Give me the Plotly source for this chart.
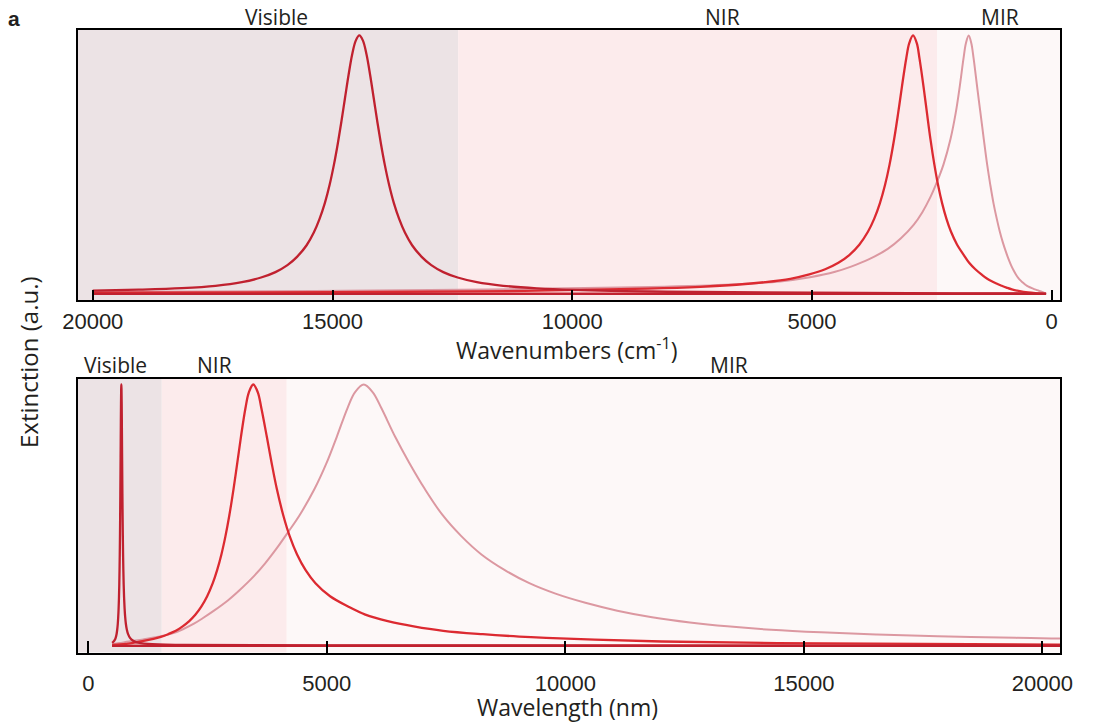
import plotly.graph_objects as go

W, H = 1094, 723

# Normalised extinction spectra.
# Visible and NIR bands sampled in wavenumber (cm^-1)
vis_wn = [20000, 19040, 18140, 17440, 16890, 16490, 16190, 15940, 15740, 15540, 15390, 15270,
          15160, 15060, 14970, 14890, 14815, 14740, 14665, 14590, 14515, 14440,
          14365, 14290, 14215, 14140, 14065, 13990, 13910, 13820, 13720, 13610, 13490, 13340,
          13140, 12940, 12690, 12390, 11990, 11440, 10740, 10000, 8000, 5000, 2000, 500, 120]
vis_ext = [0.012, 0.016, 0.022, 0.031, 0.045, 0.063, 0.084, 0.111, 0.143, 0.188, 0.237, 0.29,
           0.351, 0.422, 0.5, 0.581, 0.666, 0.757, 0.847, 0.926, 0.98, 1.0,
           0.98, 0.926, 0.847, 0.757, 0.666, 0.581, 0.5, 0.422, 0.351, 0.29, 0.237, 0.188,
           0.143, 0.111, 0.084, 0.063, 0.045, 0.031, 0.021, 0.015, 0.008, 0.004, 0.002, 0.001, 0.0]

nir_wn = [20000, 15000, 11000, 8422, 7325, 6578, 5981, 5452, 5055, 4725, 4449, 4222, 4013,
          3833, 3703, 3584, 3478, 3382, 3285, 3202, 3125, 3035, 2971, 2892,
          2814, 2757, 2672, 2602, 2530, 2447, 2369, 2285, 2195, 2100, 1973, 1833, 1722, 1593,
          1466, 1344, 1209, 1107, 1042, 942, 832, 692, 492, 292, 120]
nir_ext = [0.004, 0.006, 0.011, 0.02, 0.027, 0.035, 0.045, 0.058, 0.075, 0.095, 0.12, 0.15, 0.19,
           0.24, 0.29, 0.35, 0.42, 0.5, 0.6, 0.7, 0.8, 0.91, 0.97, 1.0,
           0.97, 0.91, 0.8, 0.7, 0.6, 0.5, 0.42, 0.35, 0.29, 0.24, 0.19, 0.15, 0.12, 0.095,
           0.075, 0.058, 0.045, 0.036, 0.031, 0.024, 0.017, 0.011, 0.005, 0.002, 0.0]

# MIR band sampled in wavelength (nm)
mir_nm = [500, 650, 850, 1153, 1469, 1766, 1984, 2214, 2390, 2627, 2925, 3175, 3472, 3707,
          3948, 4195, 4429, 4741, 4995, 5209, 5434, 5589, 5774, 5964, 6143, 6433, 6730, 7056,
          7429, 7819, 8241, 8732, 9245, 9794, 10420, 11089, 11818, 12611, 13395, 14313, 15360,
          16515, 17810, 19445, 20188, 25000, 33000, 50000, 90000]
mir_ext = [0.007, 0.011, 0.017, 0.025, 0.035, 0.048, 0.064, 0.085, 0.105, 0.134, 0.174, 0.214,
           0.267, 0.316, 0.373, 0.437, 0.5, 0.6, 0.7, 0.8, 0.91, 0.97, 1.0, 0.97, 0.91, 0.8, 0.7,
           0.6, 0.5, 0.42, 0.35, 0.29, 0.24, 0.2, 0.165, 0.135, 0.11, 0.09, 0.075, 0.062, 0.052,
           0.044, 0.037, 0.031, 0.029, 0.021, 0.014, 0.007, 0.0]

wavenumber_ticks = [20000, 15000, 10000, 5000, 0]
wavelength_ticks = [0, 5000, 10000, 15000, 20000]

region_names = ["Visible", "NIR", "MIR"]
wavenumber_edges = [20308, 12380, 2390, -173]   # cm^-1
wavelength_edges = [-216, 1540, 4160, 20370]    # nm
region_fills = ["#ece3e5", "#fcebec", "#fdf8f8"]

RED = "#dc2a31"
DARK_RED = "#c0212f"
PINK = "#dc98a1"
INK = "#231f20"


def convert(values):
    """cm^-1 <-> nm"""
    return [1e7 / v for v in values]


# (wavenumbers, wavelengths, extinction, colour, width), drawn back to front
spectra = [
    (convert(mir_nm), mir_nm, mir_ext, PINK, 2.0),
    (nir_wn, convert(nir_wn), nir_ext, RED, 2.3),
    (vis_wn, convert(vis_wn), vis_ext, DARK_RED, 2.3),
]

fig = go.Figure()

for panel, (xa, ya) in enumerate((("x", "y"), ("x2", "y2"))):
    for wn, wl, ext, color, lw in spectra:
        xs = wn if panel == 0 else wl
        # closing baseline of each curve
        fig.add_trace(go.Scatter(x=[xs[0], xs[-1]], y=[0, 0], mode="lines",
                                 line=dict(color=color, width=lw), xaxis=xa, yaxis=ya,
                                 hoverinfo="skip", showlegend=False))
        fig.add_trace(go.Scatter(x=xs, y=ext, mode="lines",
                                 line=dict(color=color, width=lw, shape="spline", smoothing=1.0),
                                 xaxis=xa, yaxis=ya, showlegend=False))

# coloured spectral regions
shapes = []
for edges, xr, yr in ((wavenumber_edges, "x", "y"), (wavelength_edges, "x2", "y2")):
    for i in range(3):
        shapes.append(dict(type="rect", xref=xr, yref=f"{yr} domain",
                           x0=edges[i], x1=edges[i + 1], y0=0, y1=1,
                           fillcolor=region_fills[i], line=dict(width=0), layer="below"))

L, R = 78 / W, 1060 / W
top_dom = [1 - 300 / H, 1 - 29.5 / H]
bot_dom = [1 - 652.5 / H, 1 - 379 / H]

tick_font = dict(family="Liberation Sans, Arial, sans-serif", size=22, color=INK)
frame = dict(showline=True, linewidth=2, linecolor="black", mirror=True,
             showgrid=False, zeroline=False, automargin=False)

fig.update_layout(
    width=W, height=H,
    margin=dict(l=0, r=0, t=0, b=0, autoexpand=False),
    paper_bgcolor="white", plot_bgcolor="white",
    shapes=shapes,
    xaxis=dict(domain=[L, R], anchor="y", range=[wavenumber_edges[0], wavenumber_edges[-1]],
               tickmode="array", tickvals=wavenumber_ticks,
               ticktext=[str(t) for t in wavenumber_ticks],
               ticks="inside", ticklen=10, tickwidth=2, tickcolor="black",
               tickfont=tick_font, ticklabelstandoff=1, **frame),
    yaxis=dict(domain=top_dom, anchor="x", range=[-0.024, 1.023], showticklabels=False,
               ticks="", **frame),
    xaxis2=dict(domain=[L, R], anchor="y2", range=[wavelength_edges[0], wavelength_edges[-1]],
                tickmode="array", tickvals=wavelength_ticks,
                ticktext=[str(t) for t in wavelength_ticks],
                ticks="inside", ticklen=12, tickwidth=2, tickcolor="black",
                tickfont=tick_font, ticklabelstandoff=10, **frame),
    yaxis2=dict(domain=bot_dom, anchor="x2", range=[-0.025, 1.021], showticklabels=False,
                ticks="", **frame),
)

title_font = "Open Sans, Lato, sans-serif"


def label(text, px, py, size, angle=0, bold=False):
    fig.add_annotation(text=f"<b>{text}</b>" if bold else text,
                       x=px / W, y=1 - py / H, xref="paper", yref="paper",
                       xanchor="center", yanchor="middle", showarrow=False, textangle=angle,
                       borderpad=0,
                       font=dict(family="Liberation Sans, Arial" if bold else title_font,
                                 size=size, color=INK))


label("a", 14, 18, 21, bold=True)
for name, px in zip(region_names, (277, 722, 1000)):
    label(name, px, 17, 21)
for name, px in zip(region_names, (115, 214, 729)):
    label(name, px, 365, 21)
label("Wavenumbers (cm<sup>-1</sup>)", 567, 349, 23)
label("Wavelength (nm)", 567, 707, 23)
label("Extinction (a.u.)", 28, 362, 24, angle=-90)

fig.write_html("out.html")
